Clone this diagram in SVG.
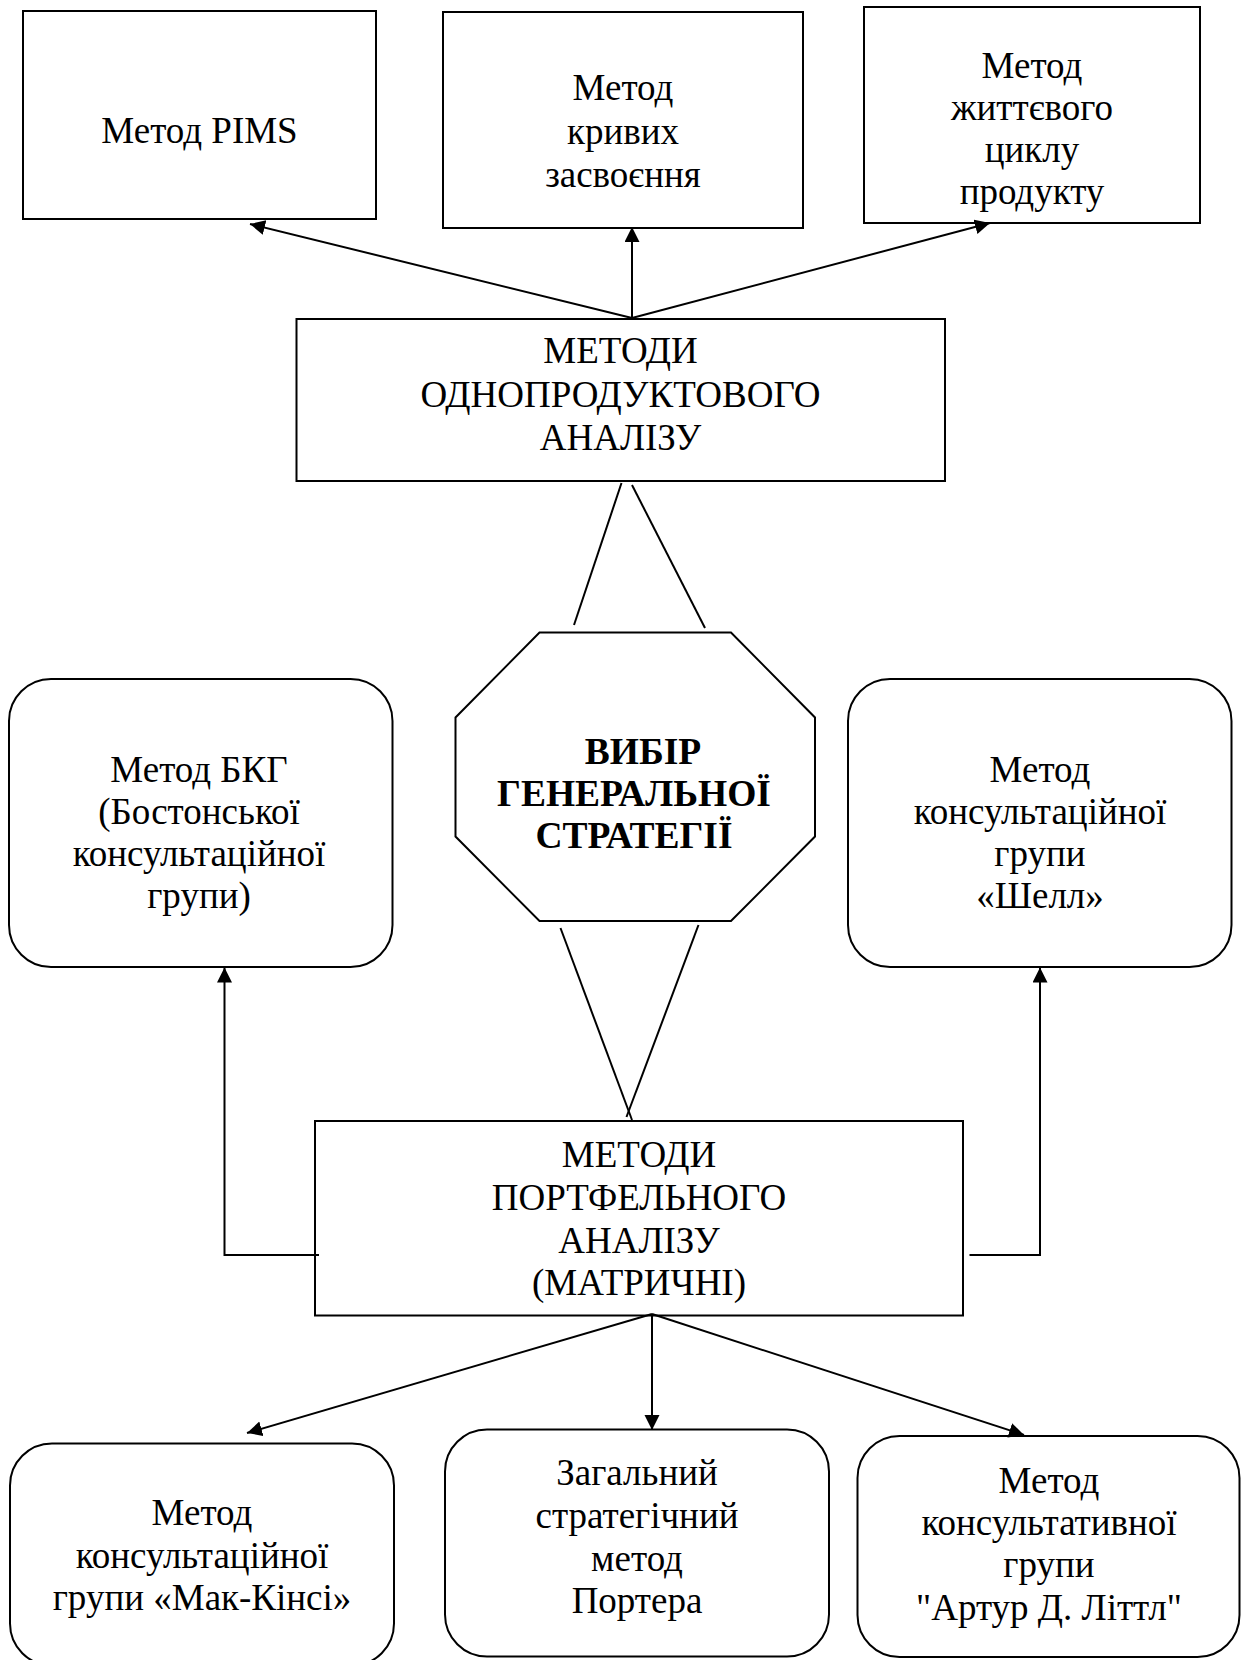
<svg xmlns="http://www.w3.org/2000/svg" width="1241" height="1660" viewBox="0 0 1241 1660">
<style>
.box{fill:#fff;stroke:#000;stroke-width:2}
.t{font-family:"Liberation Serif","Times New Roman",serif;font-size:37px;fill:#000;text-anchor:middle}
.b{font-weight:bold;font-size:37.5px}
.c{fill:none;stroke:#000;stroke-width:2}
</style>
<defs>
<marker id="ah" markerUnits="userSpaceOnUse" markerWidth="16" markerHeight="16" refX="15" refY="7.5" orient="auto">
<path d="M0,0 L15,7.5 L0,15 z" fill="#000"/>
</marker>
</defs>
<rect width="1241" height="1660" fill="#fff"/>

<g id="n-pims">
<rect class="box" x="23" y="11" width="353" height="208"/>
<text class="t" x="199.5" y="143">Метод PIMS</text>
</g>
<g id="n-curves">
<rect class="box" x="443" y="12" width="360" height="216"/>
<text class="t" x="623" y="100">Метод</text>
<text class="t" x="623" y="143.5">кривих</text>
<text class="t" x="623" y="187">засвоєння</text>
</g>
<g id="n-lifecycle">
<rect class="box" x="864" y="7" width="336" height="216"/>
<text class="t" x="1032" y="78">Метод</text>
<text class="t" x="1032" y="120">життєвого</text>
<text class="t" x="1032" y="162">циклу</text>
<text class="t" x="1032" y="204">продукту</text>
</g>
<g id="n-single">
<rect class="box" x="296.5" y="319" width="648.5" height="162"/>
<text class="t" x="620.5" y="363">МЕТОДИ</text>
<text class="t" x="620.5" y="406.5">ОДНОПРОДУКТОВОГО</text>
<text class="t" x="620.5" y="449.5">АНАЛІЗУ</text>
</g>
<g id="n-choice">
<polygon class="box" points="539.5,632.5 731,632.5 815,717.5 815,836.5 731,921 539.5,921 455.5,836.5 455.5,717.5"/>
<text class="t b" x="643" y="764">ВИБІР</text>
<text class="t b" x="634" y="806">ГЕНЕРАЛЬНОЇ</text>
<text class="t b" x="634" y="848">СТРАТЕГІЇ</text>
</g>
<g id="n-bcg">
<rect class="box" x="9" y="679" width="383.5" height="288" rx="42" ry="42"/>
<text class="t" x="199" y="782">Метод БКГ</text>
<text class="t" x="199" y="824">(Бостонської</text>
<text class="t" x="199" y="866">консультаційної</text>
<text class="t" x="199" y="908">групи)</text>
</g>
<g id="n-shell">
<rect class="box" x="848" y="679" width="383.5" height="288" rx="42" ry="42"/>
<text class="t" x="1040" y="782">Метод</text>
<text class="t" x="1040" y="824">консультаційної</text>
<text class="t" x="1040" y="866">групи</text>
<text class="t" x="1040" y="908">«Шелл»</text>
</g>
<g id="n-portfolio">
<rect class="box" x="315" y="1121" width="648" height="194.5"/>
<text class="t" x="639" y="1166.5">МЕТОДИ</text>
<text class="t" x="639" y="1209.5">ПОРТФЕЛЬНОГО</text>
<text class="t" x="639" y="1252.5">АНАЛІЗУ</text>
<text class="t" x="639" y="1295">(МАТРИЧНІ)</text>
</g>
<g id="n-mckinsey">
<rect class="box" x="10" y="1443.5" width="384" height="222" rx="42" ry="42"/>
<text class="t" x="202" y="1525">Метод</text>
<text class="t" x="202" y="1568">консультаційної</text>
<text class="t" x="202" y="1610">групи «Мак-Кінсі»</text>
</g>
<g id="n-porter">
<rect class="box" x="445" y="1429.5" width="384" height="227" rx="42" ry="42"/>
<text class="t" x="637" y="1485">Загальний</text>
<text class="t" x="637" y="1528">стратегічний</text>
<text class="t" x="637" y="1570.5">метод</text>
<text class="t" x="637" y="1613">Портера</text>
</g>
<g id="n-littl">
<rect class="box" x="857.5" y="1436" width="382" height="221" rx="42" ry="42"/>
<text class="t" x="1049" y="1492.5">Метод</text>
<text class="t" x="1049" y="1535">консультативної</text>
<text class="t" x="1049" y="1577">групи</text>
<text class="t" x="1049" y="1620">"Артур Д. Літтл"</text>
</g>

<g id="connectors">
<line class="c" x1="632" y1="318" x2="250" y2="224" marker-end="url(#ah)"/>
<line class="c" x1="632" y1="318" x2="632" y2="227" marker-end="url(#ah)"/>
<line class="c" x1="632" y1="318" x2="990" y2="223" marker-end="url(#ah)"/>
<line class="c" x1="621.5" y1="483" x2="574" y2="625"/>
<line class="c" x1="632" y1="485" x2="705" y2="628"/>
<line class="c" x1="560.5" y1="928" x2="632" y2="1120"/>
<line class="c" x1="698.5" y1="925" x2="626.5" y2="1117"/>
<polyline class="c" points="319,1255 224.5,1255 224.5,967.5" marker-end="url(#ah)"/>
<polyline class="c" points="969.5,1255 1040,1255 1040,967.5" marker-end="url(#ah)"/>
<line class="c" x1="652" y1="1314" x2="247" y2="1433" marker-end="url(#ah)"/>
<line class="c" x1="652" y1="1314" x2="652" y2="1430" marker-end="url(#ah)"/>
<line class="c" x1="652" y1="1314" x2="1024" y2="1435" marker-end="url(#ah)"/>
</g>
</svg>
